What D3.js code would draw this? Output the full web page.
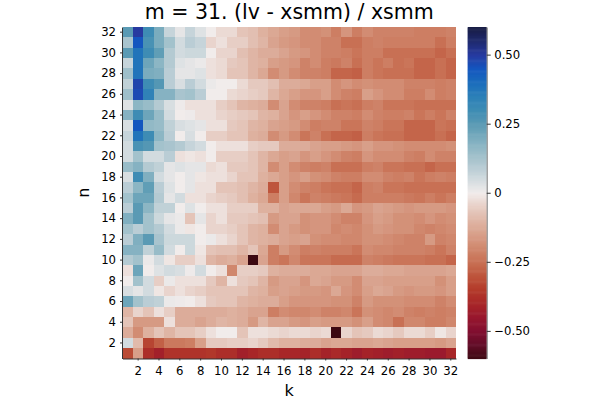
<!DOCTYPE html>
<html>
<head>
<meta charset="utf-8">
<title>m = 31. (lv - xsmm) / xsmm</title>
<style>
  body { margin: 0; background: #fff; }
  svg text { font-family: "DejaVu Sans", sans-serif; fill: #000; }
</style>
</head>
<body>
<script src="https://cdn.jsdelivr.net/npm/d3@7"></script>
<script>

var ks = [1,2,3,4,5,6,7,8,9,10,11,12,13,14,15,16,17,18,19,20,21,22,23,24,25,26,27,28,29,30,31,32];
var ns = [1,2,3,4,5,6,7,8,9,10,11,12,13,14,15,16,17,18,19,20,21,22,23,24,25,26,27,28,29,30,31,32];
var xTicks = [2,4,6,8,10,12,14,16,18,20,22,24,26,28,30,32];
var yTicks = [2,4,6,8,10,12,14,16,18,20,22,24,26,28,30,32];
var cbarTicks = [-0.5, -0.25, 0, 0.25, 0.5];
var cbarLabels = ["\u22120.50", "\u22120.25", "0", "0.25", "0.50"];
var clim = [-0.6, 0.6];

// one row per n (n = 1 first), one value per k
var z = [
  [-0.32,-0.15,-0.38,-0.42,-0.37,-0.37,-0.37,-0.37,-0.36,-0.38,-0.38,-0.42,-0.40,-0.38,-0.38,-0.40, -0.40,-0.41,-0.38,-0.41,-0.39,-0.41,-0.43,-0.41,-0.42,-0.43,-0.42,-0.43,-0.43,-0.44,-0.44,-0.40],
  [0.05,-0.09,-0.33,-0.28,-0.23,-0.23,-0.22,-0.15,-0.06,-0.06,-0.05,-0.05,-0.04,-0.06,-0.09,-0.11, -0.11,-0.12,-0.12,-0.14,-0.13,-0.13,-0.14,-0.14,-0.13,-0.14,-0.15,-0.15,-0.15,-0.15,-0.16,-0.14],
  [-0.12,-0.19,-0.11,-0.07,-0.10,-0.07,-0.07,-0.05,-0.02,0.00,0.00,-0.07,-0.02,-0.02,-0.03,-0.04, -0.03,-0.03,-0.04,-0.03,-0.60,-0.04,-0.07,-0.06,-0.03,-0.04,-0.06,-0.03,-0.03,-0.05,-0.01,-0.04],
  [-0.07,-0.16,-0.16,-0.16,-0.02,-0.12,-0.12,-0.14,-0.12,-0.10,-0.11,-0.12,-0.16,-0.10,-0.14,-0.14, -0.16,-0.17,-0.15,-0.16,-0.16,-0.16,-0.18,-0.15,-0.19,-0.20,-0.25,-0.20,-0.20,-0.22,-0.22,-0.20],
  [-0.10,-0.04,-0.07,-0.02,-0.05,-0.12,-0.12,-0.12,-0.12,-0.12,-0.11,-0.12,-0.14,-0.14,-0.22,-0.19, -0.20,-0.20,-0.19,-0.21,-0.21,-0.20,-0.24,-0.18,-0.19,-0.20,-0.19,-0.21,-0.22,-0.21,-0.22,-0.21],
  [0.22,0.13,0.09,0.08,0.01,0.005,0.00,-0.02,-0.06,-0.07,-0.07,-0.10,-0.11,-0.12,-0.12,-0.15, -0.17,-0.17,-0.17,-0.17,-0.18,-0.18,-0.21,-0.16,-0.18,-0.18,-0.18,-0.19,-0.19,-0.19,-0.21,-0.19],
  [0.04,0.02,0.05,-0.01,-0.04,-0.02,-0.04,-0.05,-0.07,-0.07,-0.07,-0.07,-0.10,-0.11,-0.15,-0.14, -0.15,-0.16,-0.16,-0.17,-0.13,-0.17,-0.19,-0.15,-0.13,-0.14,-0.16,-0.17,-0.16,-0.16,-0.17,-0.15],
  [0.00,0.13,0.05,-0.05,0.01,-0.02,-0.02,-0.02,-0.06,-0.10,-0.02,-0.06,-0.07,-0.10,-0.16,-0.14, -0.14,-0.17,-0.13,-0.14,-0.16,-0.16,-0.19,-0.14,-0.14,-0.15,-0.15,-0.15,-0.15,-0.15,-0.18,-0.15],
  [-0.02,0.22,0.00,0.03,0.05,0.04,0.005,0.05,0.00,-0.02,-0.20,-0.05,-0.05,-0.06,-0.11,-0.12, -0.12,-0.12,-0.13,-0.13,-0.14,-0.14,-0.14,-0.12,-0.12,-0.13,-0.13,-0.14,-0.14,-0.14,-0.14,-0.13],
  [0.10,0.13,0.01,0.05,-0.01,-0.05,-0.05,-0.02,-0.10,-0.12,-0.11,-0.14,-0.60,-0.14,-0.22,-0.24, -0.20,-0.24,-0.24,-0.24,-0.26,-0.26,-0.26,-0.21,-0.22,-0.23,-0.24,-0.24,-0.24,-0.25,-0.25,-0.27],
  [0.18,0.18,0.08,0.15,0.05,0.00,0.06,-0.01,-0.07,-0.08,-0.08,-0.10,-0.07,-0.13,-0.22,-0.16, -0.19,-0.22,-0.21,-0.22,-0.22,-0.22,-0.24,-0.19,-0.20,-0.20,-0.21,-0.21,-0.21,-0.22,-0.24,-0.21],
  [0.09,0.19,0.25,0.12,0.06,0.06,0.06,0.00,0.01,-0.02,-0.04,-0.07,-0.10,-0.11,-0.12,-0.14, -0.15,-0.14,-0.18,-0.19,-0.19,-0.20,-0.20,-0.18,-0.18,-0.19,-0.20,-0.21,-0.21,-0.16,-0.21,-0.20],
  [0.13,0.09,0.13,0.10,0.05,0.01,-0.01,0.00,-0.04,-0.04,-0.05,-0.07,-0.10,-0.11,-0.19,-0.14, -0.16,-0.18,-0.17,-0.17,-0.20,-0.19,-0.20,-0.18,-0.16,-0.17,-0.18,-0.18,-0.20,-0.21,-0.20,-0.19],
  [0.19,0.25,0.13,0.06,0.02,0.01,-0.07,0.02,-0.04,-0.02,-0.06,-0.06,-0.07,-0.08,-0.16,-0.14, -0.14,-0.18,-0.17,-0.17,-0.19,-0.21,-0.21,-0.17,-0.15,-0.16,-0.18,-0.18,-0.19,-0.17,-0.19,-0.18],
  [0.09,0.25,0.17,0.08,0.08,0.00,0.03,0.00,-0.02,-0.02,-0.05,-0.05,-0.05,-0.11,-0.11,-0.14, -0.13,-0.13,-0.13,-0.15,-0.16,-0.13,-0.17,-0.16,-0.14,-0.15,-0.16,-0.17,-0.16,-0.16,-0.16,-0.17],
  [0.13,0.22,0.22,0.10,0.02,0.05,-0.02,-0.02,-0.04,-0.05,-0.06,-0.08,-0.11,-0.13,-0.22,-0.15, -0.20,-0.24,-0.21,-0.22,-0.23,-0.24,-0.26,-0.22,-0.22,-0.22,-0.22,-0.23,-0.24,-0.22,-0.24,-0.22],
  [0.09,0.17,0.24,0.09,0.03,0.00,0.02,-0.02,-0.02,-0.07,-0.07,-0.08,-0.10,-0.12,-0.30,-0.15, -0.19,-0.21,-0.22,-0.24,-0.25,-0.25,-0.27,-0.22,-0.21,-0.24,-0.24,-0.25,-0.25,-0.25,-0.25,-0.25],
  [0.04,0.30,0.19,0.05,0.02,0.00,0.02,-0.01,-0.02,-0.02,-0.04,-0.07,-0.07,-0.11,-0.13,-0.15, -0.17,-0.15,-0.18,-0.19,-0.21,-0.22,-0.22,-0.19,-0.19,-0.21,-0.22,-0.21,-0.24,-0.22,-0.21,-0.22],
  [0.15,0.18,0.10,0.08,0.02,0.03,0.02,0.02,-0.03,-0.02,-0.06,-0.06,-0.07,-0.10,-0.19,-0.15, -0.19,-0.21,-0.22,-0.21,-0.25,-0.25,-0.25,-0.22,-0.21,-0.24,-0.24,-0.25,-0.25,-0.27,-0.25,-0.25],
  [0.05,0.13,0.05,0.05,0.09,-0.02,-0.01,-0.02,0.00,-0.05,-0.05,-0.05,-0.07,-0.10,-0.13,-0.15, -0.14,-0.17,-0.15,-0.17,-0.19,-0.21,-0.22,-0.17,-0.19,-0.19,-0.19,-0.21,-0.22,-0.19,-0.21,-0.21],
  [0.05,0.28,0.26,0.13,0.12,0.10,0.07,0.05,0.00,-0.02,-0.02,-0.02,-0.05,-0.06,-0.06,-0.12, -0.12,-0.12,-0.14,-0.15,-0.15,-0.16,-0.17,-0.15,-0.17,-0.17,-0.18,-0.19,-0.19,-0.19,-0.19,-0.18],
  [0.07,0.38,0.30,0.17,0.09,0.00,0.04,0.00,-0.05,-0.05,-0.07,-0.07,-0.11,-0.12,-0.19,-0.16, -0.19,-0.24,-0.21,-0.25,-0.27,-0.27,-0.28,-0.22,-0.24,-0.25,-0.25,-0.27,-0.27,-0.27,-0.25,-0.27],
  [0.04,0.45,0.16,0.15,0.08,0.04,0.03,0.02,-0.02,-0.02,-0.06,-0.07,-0.10,-0.11,-0.14,-0.15, -0.16,-0.19,-0.22,-0.21,-0.21,-0.24,-0.24,-0.21,-0.22,-0.24,-0.24,-0.27,-0.27,-0.27,-0.24,-0.25],
  [0.18,0.30,0.22,0.15,0.05,0.00,0.005,-0.02,-0.02,-0.04,-0.05,-0.06,-0.07,-0.10,-0.11,-0.14, -0.17,-0.15,-0.17,-0.19,-0.21,-0.21,-0.22,-0.19,-0.21,-0.22,-0.22,-0.21,-0.24,-0.22,-0.24,-0.21],
  [0.03,0.17,0.15,0.10,0.04,0.005,-0.02,-0.02,-0.02,-0.05,-0.07,-0.10,-0.11,-0.12,-0.19,-0.14, -0.19,-0.21,-0.21,-0.22,-0.25,-0.24,-0.25,-0.22,-0.21,-0.24,-0.24,-0.24,-0.25,-0.25,-0.25,-0.25],
  [0.14,0.47,0.34,0.18,0.18,0.12,0.13,0.09,0.00,0.00,-0.03,-0.04,-0.05,-0.06,-0.10,-0.13, -0.15,-0.17,-0.17,-0.15,-0.19,-0.21,-0.22,-0.15,-0.17,-0.19,-0.19,-0.22,-0.22,-0.19,-0.22,-0.21],
  [0.08,0.48,0.30,0.26,0.09,0.04,0.09,0.05,0.01,0.00,0.00,-0.03,-0.06,-0.06,-0.08,-0.12, -0.12,-0.13,-0.15,-0.15,-0.19,-0.17,-0.19,-0.18,-0.19,-0.19,-0.19,-0.21,-0.21,-0.21,-0.22,-0.21],
  [0.14,0.38,0.20,0.19,0.09,0.02,0.02,0.03,-0.02,-0.03,-0.07,-0.07,-0.10,-0.13,-0.19,-0.16, -0.19,-0.21,-0.21,-0.22,-0.27,-0.27,-0.28,-0.22,-0.24,-0.25,-0.25,-0.25,-0.27,-0.27,-0.25,-0.27],
  [0.07,0.38,0.22,0.17,0.10,0.03,0.02,0.01,-0.02,-0.03,-0.06,-0.07,-0.10,-0.11,-0.15,-0.16, -0.17,-0.21,-0.19,-0.22,-0.23,-0.21,-0.25,-0.22,-0.24,-0.22,-0.25,-0.24,-0.27,-0.27,-0.25,-0.27],
  [0.25,0.38,0.30,0.24,0.10,0.05,0.06,0.06,0.00,-0.04,-0.04,-0.08,-0.10,-0.12,-0.12,-0.14, -0.16,-0.17,-0.19,-0.21,-0.21,-0.22,-0.24,-0.22,-0.22,-0.25,-0.25,-0.25,-0.25,-0.25,-0.27,-0.25],
  [0.12,0.45,0.28,0.20,0.13,0.05,0.09,0.07,-0.04,-0.02,-0.05,-0.05,-0.08,-0.10,-0.14,-0.16, -0.17,-0.19,-0.19,-0.21,-0.21,-0.25,-0.25,-0.22,-0.21,-0.22,-0.22,-0.22,-0.22,-0.22,-0.25,-0.22],
  [0.25,0.50,0.30,0.20,0.07,0.02,0.07,0.03,0.00,-0.03,-0.03,-0.07,-0.08,-0.11,-0.13,-0.15, -0.16,-0.19,-0.19,-0.18,-0.22,-0.17,-0.22,-0.19,-0.21,-0.21,-0.21,-0.21,-0.22,-0.22,-0.22,-0.21]
];

// balance colour map (blue for positive values here)
var cmapVals = [-0.6,-0.55,-0.5,-0.45,-0.4,-0.35,-0.3,-0.25,-0.2,-0.15,-0.1,-0.05,0,0.05,0.1,0.15,0.2,0.25,0.3,0.35,0.4,0.45,0.5,0.55,0.6];
var cmapCols = ["#3c0912","#620d28","#820f30","#98172e","#a82628","#b33b2b","#be553c","#c87054","#d0876d","#d89f89","#dfb5a5","#e7cec5","#f1eceb",
                "#d2dbdf","#b4cad2","#98bcc8","#7aacbe","#5a9ab4","#3e8cb4","#2c80b8","#1a6cbc","#1456bf","#273aa0","#1f2a6e","#181c43"];
var color = d3.scaleLinear().domain(cmapVals).range(cmapCols).interpolate(d3.interpolateRgb).clamp(true);

var W = 600, H = 400;
var plot = {left: 122.5, right: 456, top: 27, bottom: 358.5};
var cbar = {left: 467.7, right: 486.7};

var svg = d3.select('body').append('svg')
    .attr('width', W)
    .attr('height', H);

var x = d3.scaleBand().domain(ks).range([plot.left, plot.right]).padding(0);
var y = d3.scaleBand().domain(ns).range([plot.bottom, plot.top]).padding(0);

var cells = [];
z.forEach(function(row, i) {
    row.forEach(function(v, j) {
        cells.push({n: ns[i], k: ks[j], v: v});
    });
});

svg.append('g')
    .attr('shape-rendering', 'crispEdges')
    .selectAll('rect')
    .data(cells)
    .enter().append('rect')
    .attr('x', function(d) { return x(d.k); })
    .attr('y', function(d) { return y(d.n); })
    .attr('width', x.bandwidth())
    .attr('height', y.bandwidth())
    .attr('fill', function(d) { return color(d.v); });

// axes
var xAxis = d3.axisBottom(x).tickValues(xTicks).tickSize(2).tickSizeOuter(0).tickPadding(6);
var gx = svg.append('g')
    .attr('transform', 'translate(0,' + plot.bottom + ')')
    .call(xAxis);

var yAxis = d3.axisLeft(y).tickValues(yTicks).tickSize(2).tickSizeOuter(0).tickPadding(4);
var gy = svg.append('g')
    .attr('transform', 'translate(' + (plot.left - 0.5) + ',0)')
    .call(yAxis);

[gx, gy].forEach(function(g) {
    g.selectAll('text').style('font-size', '11.7px').style('font-family', '"DejaVu Sans", sans-serif');
    g.select('.domain').attr('stroke', '#333');
    g.selectAll('.tick line').attr('stroke', '#333');
});

// colour bar
var cy = d3.scaleLinear().domain(clim).range([plot.bottom, plot.top]);
var steps = d3.range(0, 300);
var stepH = (plot.bottom - plot.top) / steps.length;
svg.append('g')
    .selectAll('rect')
    .data(steps)
    .enter().append('rect')
    .attr('x', cbar.left)
    .attr('width', cbar.right - cbar.left)
    .attr('y', function(i) { return plot.bottom - (i + 1) * stepH; })
    .attr('height', stepH + 0.6)
    .attr('fill', function(i) { return color(clim[0] + (i + 0.5) / steps.length * (clim[1] - clim[0])); });

var cAxis = d3.axisRight(cy).tickValues(cbarTicks)
    .tickFormat(function(d, i) { return cbarLabels[i]; })
    .tickSize(4).tickSizeOuter(0).tickPadding(3.5);
var gc = svg.append('g')
    .attr('transform', 'translate(' + cbar.right + ',0)')
    .call(cAxis);
gc.selectAll('text').style('font-size', '11.7px').style('font-family', '"DejaVu Sans", sans-serif');
gc.select('.domain').attr('stroke', '#777');
gc.selectAll('.tick line').attr('stroke', '#333');

// labels
svg.append('text')
    .attr('x', (plot.left + plot.right) / 2)
    .attr('y', 18.5)
    .attr('text-anchor', 'middle')
    .style('font-size', '20.5px')
    .text('m = 31. (lv - xsmm) / xsmm');

svg.append('text')
    .attr('x', (plot.left + plot.right) / 2)
    .attr('y', 395.5)
    .attr('text-anchor', 'middle')
    .style('font-size', '16px')
    .text('k');

svg.append('text')
    .attr('transform', 'translate(89,' + ((plot.top + plot.bottom) / 2) + ') rotate(-90)')
    .attr('text-anchor', 'middle')
    .style('font-size', '16px')
    .text('n');

</script>
</body>
</html>
